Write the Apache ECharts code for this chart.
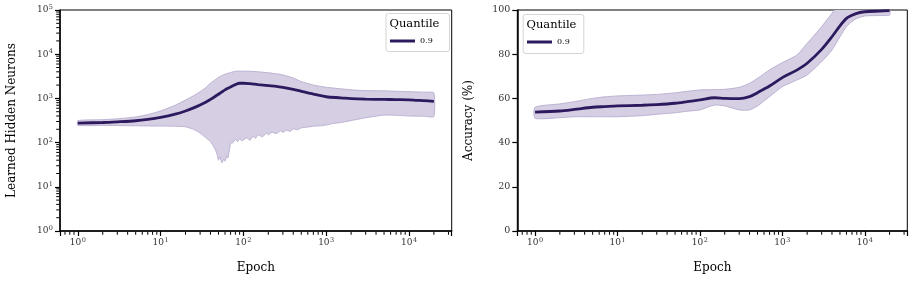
<!DOCTYPE html>
<html><head><meta charset="utf-8">
<script src="https://cdn.jsdelivr.net/npm/echarts@6/dist/echarts.min.js"></script>
<style>html,body{margin:0;padding:0;background:#fff}#c{width:914px;height:282px}</style>
</head><body><div id="c"></div>
<script>
// ---------- data ----------
var epochsL = [1, 2, 3, 5, 7, 10, 15, 20, 25, 30, 35, 40, 45, 50, 55, 60, 65, 70, 80, 90, 100, 120, 150, 200, 250, 300, 400, 500, 700, 1000, 1500, 2000, 3000, 5000, 7000, 10000, 15000, 20000];
var neuronsMid = [277, 285, 295, 312, 335, 372, 440, 520, 610, 710, 820, 950, 1090, 1240, 1400, 1560, 1700, 1820, 2050, 2200, 2200, 2150, 2050, 1950, 1880, 1780, 1600, 1450, 1250, 1090, 1030, 985, 960, 950, 940, 930, 890, 860];
var neuronsHi = [315, 330, 345, 380, 430, 520, 700, 920, 1150, 1420, 1750, 2200, 2600, 3000, 3300, 3550, 3700, 3850, 4100, 4150, 4150, 4100, 4000, 3800, 3600, 3400, 2900, 2400, 2000, 1780, 1650, 1560, 1500, 1480, 1450, 1420, 1380, 1340];
var epochsLLo = [1, 2, 3, 5, 7, 10, 15, 20, 25, 30, 35, 40, 45, 48, 50, 52, 55, 58, 60, 63, 65, 68, 70, 75, 80, 85, 90, 95, 100, 110, 120, 130, 140, 150, 170, 190, 200, 220, 250, 280, 300, 330, 370, 400, 450, 500, 600, 700, 850, 1000, 1200, 1500, 2000, 3000, 5000, 7000, 10000, 15000, 20000];
var neuronsLo = [245, 245, 243, 240, 238, 237, 235, 228, 200, 165, 130, 105, 75, 55, 40, 48, 35, 42, 38, 50, 45, 70, 95, 100, 118, 105, 122, 110, 115, 128, 112, 140, 125, 150, 135, 165, 150, 172, 160, 185, 170, 190, 180, 205, 195, 215, 225, 235, 240, 250, 270, 285, 315, 365, 420, 415, 400, 395, 390];

var epochsR = [1, 2, 3, 5, 7, 10, 20, 30, 50, 70, 100, 150, 200, 300, 400, 500, 700, 1000, 1500, 2000, 3000, 4000, 5000, 6000, 7000, 8000, 10000, 15000, 20000];
var accMid = [53.8, 54.3, 55.0, 56.0, 56.3, 56.6, 56.9, 57.2, 57.8, 58.5, 59.3, 60.3, 60.0, 59.9, 60.8, 62.6, 65.6, 69.4, 72.8, 75.9, 82.2, 87.9, 92.8, 96.2, 97.6, 98.5, 99.2, 99.5, 99.7];
var accHi = [56.0, 57.5, 58.5, 60.0, 60.7, 61.1, 61.5, 61.8, 62.5, 63.2, 63.8, 64.0, 64.1, 65.0, 66.8, 69.1, 72.9, 76.2, 79.6, 84.9, 92.5, 98.5, 103, 105, 104, 102, 100.5, 100.3, 100.2];
var accLo = [51.0, 51.3, 51.7, 51.7, 51.7, 51.7, 52.2, 52.8, 53.5, 54.2, 54.8, 57.0, 56.6, 54.8, 54.8, 56.6, 60.8, 65.3, 68.3, 70.6, 76.6, 81.9, 87.9, 92.5, 94.8, 96.2, 97.3, 97.5, 97.7];

var legendTitle = 'Quantile';
var seriesName = '0.9';
var xTitle = 'Epoch';
var yTitleL = 'Learned Hidden Neurons';
var yTitleR = 'Accuracy (%)';
var accTicks = [0, 20, 40, 60, 80, 100];

// ---------- styling ----------
var FONT = 'DejaVu Serif';
var LINE = '#2d1a5e';
var FILL = '#d6cfe3';
var EDGE = '#bcb2d3';
var LABEL = '#333';
var XMIN = Math.pow(10, -0.2151), XMAX = Math.pow(10, 4.5161);

function zip(xs, ys) { return xs.map(function (x, i) { return [x, ys[i]]; }); }

// minor log-tick positions (axis decoration, 2..9 x 10^k)
function minorPositions(lo, hi) {
  var out = [];
  for (var k = -2; k <= 6; k++) for (var m = 2; m <= 9; m++) {
    var v = m * Math.pow(10, k);
    if (v > lo && v < hi) out.push(v);
  }
  return out;
}
var minorX = minorPositions(XMIN, XMAX);
var minorY = minorPositions(1, 100000);

function powLabel(v) {
  var e = Math.round(Math.log(v) / Math.LN10);
  if (Math.abs(v - Math.pow(10, e)) / v > 1e-6) return '';
  return '{b|10}{s|' + e + '}';
}
var richPow = {
  b: { fontFamily: FONT, fontSize: 9, color: LABEL, lineHeight: 12 },
  s: { fontFamily: FONT, fontSize: 6.5, color: LABEL, verticalAlign: 'top', lineHeight: 8, padding: [0, 0, 0, 0.5] }
};

function logXAxis(gi) {
  return {
    type: 'log', gridIndex: gi, logBase: 10, min: XMIN, max: XMAX,
    name: xTitle, nameLocation: 'middle', nameGap: 31,
    nameTextStyle: { fontFamily: FONT, fontSize: 12, color: '#000' },
    axisLine: { show: true, onZero: false, lineStyle: { color: '#000', width: 1.5 } },
    axisTick: { show: true, length: 5, lineStyle: { color: '#000', width: 1.2 } },
    splitLine: { show: false },
    axisLabel: { formatter: powLabel, rich: richPow, margin: 6 }
  };
}

function bandSeries(xi, yi, xsHi, hi, xsLo, lo, smooth) {
  return {
    type: 'custom', xAxisIndex: xi, yAxisIndex: yi, clip: true, silent: true, z: 1,
    data: [[xsHi[0], hi[0]]],
    renderItem: function (params, api) {
      var pts = [];
      for (var i = 0; i < xsHi.length; i++) pts.push(api.coord([xsHi[i], hi[i]]));
      for (var j = xsLo.length - 1; j >= 0; j--) pts.push(api.coord([xsLo[j], lo[j]]));
      return {
        type: 'polygon',
        shape: { points: pts, smooth: smooth },
        style: { fill: FILL, stroke: EDGE, lineWidth: 1 }
      };
    }
  };
}

function tickScatter(name, xi, yi, data, size, offset) {
  return {
    type: 'scatter', name: name, xAxisIndex: xi, yAxisIndex: yi, data: data,
    symbol: 'rect', symbolSize: size, symbolOffset: offset, clip: false, silent: true,
    itemStyle: { color: '#000', opacity: 1 }, z: 10, animation: false,
    emphasis: { disabled: true }
  };
}

var chart = echarts.init(document.getElementById('c'), null, { renderer: 'canvas' });

var legendGraphics = [
  { type: 'rect', left: 385.5, top: 13, z: 10, shape: { width: 63.5, height: 38, r: 2.5 },
    style: { fill: 'rgba(255,255,255,0.85)', stroke: '#d4d4d4', lineWidth: 1 } },
  { type: 'text', left: 389.5, top: 18, z: 21, style: { text: legendTitle, fontFamily: FONT, fontSize: 11.5, fill: '#000' } },
  { type: 'rect', left: 522.7, top: 14, z: 10, shape: { width: 60.6, height: 39, r: 2.5 },
    style: { fill: 'rgba(255,255,255,0.85)', stroke: '#d4d4d4', lineWidth: 1 } },
  { type: 'text', left: 526.5, top: 19, z: 21, style: { text: legendTitle, fontFamily: FONT, fontSize: 11.5, fill: '#000' } }
];

var option = {
  animation: false,
  backgroundColor: '#fff',
  grid: [
    { left: 60, top: 10, width: 391.7, height: 221, show: true, borderColor: '#000', borderWidth: 1, backgroundColor: 'transparent' },
    { left: 517.3, top: 10, width: 390, height: 221, show: true, borderColor: '#000', borderWidth: 1, backgroundColor: 'transparent' }
  ],
  xAxis: [logXAxis(0), logXAxis(1)],
  yAxis: [
    {
      type: 'log', gridIndex: 0, logBase: 10, min: 1, max: 100000,
      name: yTitleL, nameLocation: 'middle', nameGap: 42,
      nameTextStyle: { fontFamily: FONT, fontSize: 12, color: '#000' },
      axisLine: { show: true, lineStyle: { color: '#000', width: 1.5 } },
      axisTick: { show: true, length: 5, lineStyle: { color: '#000', width: 1.2 } },
      splitLine: { show: false },
      axisLabel: { formatter: powLabel, rich: richPow, margin: 7 }
    },
    {
      type: 'value', gridIndex: 1, min: accTicks[0], max: accTicks[accTicks.length - 1], interval: 20,
      name: yTitleR, nameLocation: 'middle', nameGap: 42,
      nameTextStyle: { fontFamily: FONT, fontSize: 12, color: '#000' },
      axisLine: { show: true, lineStyle: { color: '#000', width: 1.5 } },
      axisTick: { show: true, length: 5, lineStyle: { color: '#000', width: 1.2 } },
      splitLine: { show: false },
      axisLabel: { fontFamily: FONT, fontSize: 9.5, color: LABEL, margin: 7 }
    }
  ],
  legend: [
    { left: 390, top: 37, z: 20, itemWidth: 25, itemHeight: 3, icon: 'rect', itemGap: 6, padding: 0,
      data: [seriesName], selectedMode: false,
      textStyle: { fontFamily: FONT, fontSize: 8, color: '#000' } },
    { left: 527, top: 38, z: 20, itemWidth: 25, itemHeight: 3, icon: 'rect', itemGap: 6, padding: 0,
      data: [seriesName], selectedMode: false,
      textStyle: { fontFamily: FONT, fontSize: 8, color: '#000' } }
  ],
  graphic: legendGraphics,
  series: [
    bandSeries(0, 0, epochsL, neuronsHi, epochsLLo, neuronsLo, 0.15),
    { type: 'line', name: seriesName, xAxisIndex: 0, yAxisIndex: 0, data: zip(epochsL, neuronsMid),
      showSymbol: false, smooth: 0.3, lineStyle: { color: LINE, width: 2.8 }, itemStyle: { color: LINE }, z: 3 },
    bandSeries(1, 1, epochsR, accHi, epochsR, accLo, 0.2),
    { type: 'line', name: seriesName, xAxisIndex: 1, yAxisIndex: 1, data: zip(epochsR, accMid),
      showSymbol: false, smooth: 0.3, lineStyle: { color: LINE, width: 2.8 }, itemStyle: { color: LINE }, z: 3 },
    tickScatter('minorX0', 0, 0, minorX.map(function (v) { return [v, 1]; }), [1, 3], [0, 2.3]),
    tickScatter('minorX1', 1, 1, minorX.map(function (v) { return [v, 0]; }), [1, 3], [0, 2.3]),
    tickScatter('minorY0', 0, 0, minorY.map(function (v) { return [XMIN, v]; }), [3, 1], [-2.3, 0])
  ]
};
chart.setOption(option);
</script>
</body></html>
